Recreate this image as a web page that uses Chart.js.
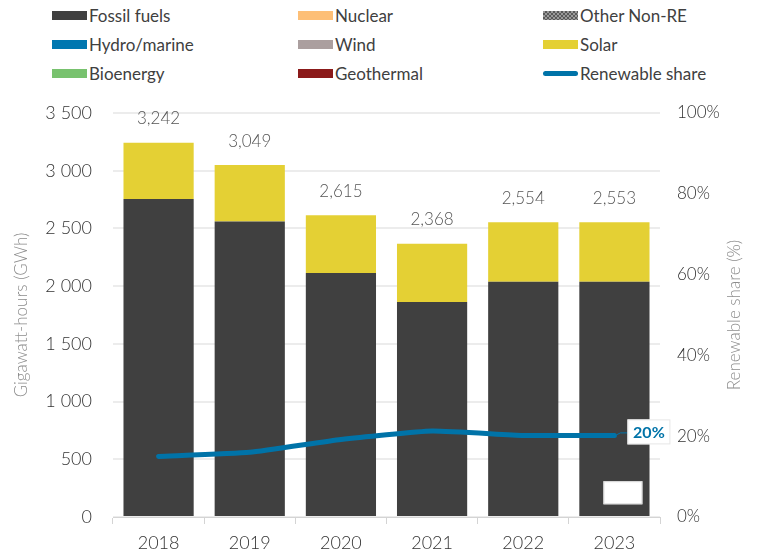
<!DOCTYPE html>
<html>
<head>
<meta charset="utf-8">
<script src="https://cdn.jsdelivr.net/npm/chart.js@4.4.1/dist/chart.umd.min.js"></script>
<style>
    html, body { margin: 0; padding: 0; background: #ffffff; }
    #wrap { position: relative; width: 758px; height: 555px; }
    #chart { position: absolute; left: 0; top: 0; }
    .lg { position: absolute; height: 20px; display: flex; align-items: center;
          font-family: Lato, sans-serif; font-weight: 400; font-size: 17px; color: #404040; white-space: nowrap; }
    .lg .sw { display: inline-block; width: 35px; height: 9px; margin-right: 2px; }
    .lg .ln { display: inline-block; width: 35px; height: 5px; border-radius: 3px; margin-right: 2px; }
</style>
</head>
<body>
<div id="wrap">
    <div id="legend"></div>
    <canvas id="chart" width="758" height="555"></canvas>
</div>
<script>
// ===== DATA =====
const years = ['2018', '2019', '2020', '2021', '2022', '2023'];
const fossilFuels = [2755, 2561, 2113, 1863, 2037, 2037];
const nuclear = [0, 0, 0, 0, 0, 0];
const otherNonRE = [0, 0, 0, 0, 0, 0];
const hydroMarine = [0, 0, 0, 0, 0, 0];
const wind = [0, 0, 0, 0, 0, 0];
const solar = [487, 488, 502, 505, 517, 516];
const bioenergy = [0, 0, 0, 0, 0, 0];
const geothermal = [0, 0, 0, 0, 0, 0];
const totals = [3242, 3049, 2615, 2368, 2554, 2553];
const renewableShare = [15.0, 16.0, 19.2, 21.3, 20.2, 20.2];

const gwhMax = 3500;
const gwhStep = 500;
const shareMax = 100;
const shareStep = 20;

// ===== STYLE =====
const FONT = 'Lato, sans-serif';
const TEXT_DARK = '#333333';
const TEXT_GREY = '#8c8c8c';
const SHARE_BLUE = '#0073a8';

// dotted pattern for "Other Non-RE"
function dotPattern() {
    const c = document.createElement('canvas');
    c.width = 4; c.height = 4;
    const g = c.getContext('2d');
    g.fillStyle = '#5a5a5a';
    g.fillRect(0, 0, 4, 4);
    g.fillStyle = '#9a9a9a';
    g.fillRect(0, 0, 2, 2);
    g.fillRect(2, 2, 2, 2);
    return c;
}

const barSeries = [
    { name: 'Fossil fuels', data: fossilFuels, color: '#404040' },
    { name: 'Nuclear', data: nuclear, color: '#fdbf77' },
    { name: 'Other Non-RE', data: otherNonRE, color: '#5a5a5a', dotted: true },
    { name: 'Hydro/marine', data: hydroMarine, color: '#0077b0' },
    { name: 'Wind', data: wind, color: '#ab9f9f' },
    { name: 'Solar', data: solar, color: '#e4d034' },
    { name: 'Bioenergy', data: bioenergy, color: '#78c26e' },
    { name: 'Geothermal', data: geothermal, color: '#8b1a1a' }
];

// ===== LEGEND (3 columns x 3 rows) =====
const legendCols = [52, 298, 543];
const legendRows = [15, 44, 73];
const legendOrder = ['Fossil fuels', 'Nuclear', 'Other Non-RE',
                     'Hydro/marine', 'Wind', 'Solar',
                     'Bioenergy', 'Geothermal', 'Renewable share'];
const legendEl = document.getElementById('legend');
legendOrder.forEach((name, i) => {
    const item = document.createElement('div');
    item.className = 'lg';
    item.style.left = legendCols[i % 3] + 'px';
    item.style.top = (legendRows[Math.floor(i / 3)] - 10) + 'px';
    const s = barSeries.find(b => b.name === name);
    const sw = document.createElement('span');
    if (s) {
        sw.className = 'sw';
        if (s.dotted) {
            sw.style.background = 'url(' + dotPattern().toDataURL() + ')';
        } else {
            sw.style.background = s.color;
        }
    } else {
        sw.className = 'ln';
        sw.style.background = SHARE_BLUE;
    }
    item.appendChild(sw);
    item.appendChild(document.createTextNode(name));
    legendEl.appendChild(item);
});

// ===== PLUGINS =====
const fmtSpace = v => String(v).replace(/\B(?=(\d{3})+(?!\d))/g, ' ');
const fmtComma = v => String(v).replace(/\B(?=(\d{3})+(?!\d))/g, ',');

const extrasPlugin = {
    id: 'extras',
    afterDatasetsDraw(chart) {
        const ctx = chart.ctx;
        const y = chart.scales.y;
        const barMeta = chart.getDatasetMeta(0);

        // totals above stacks
        ctx.save();
        ctx.font = '300 17px ' + FONT;
        ctx.fillStyle = '#555555';
        ctx.textAlign = 'center';
        ctx.textBaseline = 'middle';
        totals.forEach((t, i) => {
            const bx = barMeta.data[i].x;
            ctx.fillText(fmtComma(t), bx, y.getPixelForValue(t) - 24);
        });
        ctx.restore();

        // blank white box inside last bar
        const lastBar = barMeta.data[barMeta.data.length - 1];
        const bTop = y.getPixelForValue(310);
        const bBot = y.getPixelForValue(110);
        ctx.save();
        ctx.fillStyle = '#ffffff';
        ctx.strokeStyle = '#d9d9d9';
        ctx.lineWidth = 1;
        ctx.fillRect(lastBar.x - 11, bTop, 39, bBot - bTop);
        ctx.strokeRect(lastBar.x - 11 + 0.5, bTop + 0.5, 38, bBot - bTop - 1);
        ctx.restore();

        // end label for renewable share
        const lineMeta = chart.getDatasetMeta(chart.data.datasets.length - 1);
        const p = lineMeta.data[lineMeta.data.length - 1];
        const bx0 = p.x + 13, by0 = p.y - 16;
        ctx.save();
        ctx.strokeStyle = SHARE_BLUE;
        ctx.lineWidth = 1;
        ctx.beginPath();
        ctx.moveTo(p.x + 2, p.y - 0.5);
        ctx.lineTo(p.x + 6, p.y - 2.5);
        ctx.lineTo(bx0, p.y - 2.5);
        ctx.stroke();
        ctx.fillStyle = '#ffffff';
        ctx.strokeStyle = '#e6e6e6';
        ctx.fillRect(bx0, by0, 43, 25);
        ctx.strokeRect(bx0 + 0.5, by0 + 0.5, 42, 24);
        ctx.fillStyle = SHARE_BLUE;
        ctx.font = 'bold 16px ' + FONT;
        ctx.textAlign = 'center';
        ctx.textBaseline = 'middle';
        ctx.fillText(Math.round(renewableShare[renewableShare.length - 1]) + '%', bx0 + 21.5, by0 + 13);
        ctx.restore();

        // right axis title, reading bottom to top
        const ys = chart.scales.yShare;
        ctx.save();
        ctx.translate(735, (ys.top + ys.bottom) / 2);
        ctx.rotate(-Math.PI / 2);
        ctx.font = '300 17px ' + FONT;
        ctx.fillStyle = TEXT_GREY;
        ctx.textAlign = 'center';
        ctx.textBaseline = 'middle';
        ctx.fillText('Renewable share (%)', 0, 0);
        ctx.restore();
    }
};

// ===== CHART =====
const datasets = barSeries.map(s => ({
    type: 'bar',
    label: s.name,
    data: s.data,
    backgroundColor: s.color,
    borderWidth: 0,
    stack: 'gen',
    yAxisID: 'y',
    order: 1,
    barPercentage: 0.77,
    categoryPercentage: 1
}));
datasets.push({
    type: 'line',
    label: 'Renewable share',
    data: renewableShare,
    borderColor: SHARE_BLUE,
    borderWidth: 5,
    borderCapStyle: 'round',
    borderJoinStyle: 'round',
    pointRadius: 0,
    tension: 0.15,
    yAxisID: 'yShare',
    order: 0
});

new Chart(document.getElementById('chart'), {
    data: { labels: years, datasets: datasets },
    options: {
        responsive: false,
        animation: false,
        layout: { padding: { top: 113, left: 0, right: 0, bottom: 0 } },
        plugins: { legend: { display: false }, tooltip: { enabled: false } },
        scales: {
            x: {
                stacked: true,
                grid: { drawOnChartArea: false, drawTicks: true, tickLength: 7, color: '#d4d4d4', offset: true },
                border: { display: true, color: '#d4d4d4', width: 1 },
                ticks: { color: TEXT_DARK, font: { family: FONT, size: 18, weight: 300 }, padding: 8, maxRotation: 0 },
                afterFit: s => { s.height = 38; }
            },
            y: {
                stacked: true,
                position: 'left',
                min: 0,
                max: gwhMax,
                ticks: { stepSize: gwhStep, color: TEXT_DARK, font: { family: FONT, size: 18, weight: 300 }, padding: 21,
                         callback: v => fmtSpace(v) },
                grid: { color: '#ececec', lineWidth: 2, drawTicks: false },
                border: { display: false },
                title: { display: true, text: 'Gigawatt-hours (GWh)', color: TEXT_GREY,
                         font: { family: FONT, size: 17, weight: 300 }, padding: { top: 11, bottom: 0 } },
                afterFit: s => { s.width = 113; }
            },
            yShare: {
                position: 'right',
                min: 0,
                max: shareMax,
                ticks: { stepSize: shareStep, color: TEXT_DARK, font: { family: FONT, size: 17, weight: 300 }, padding: 17,
                         callback: v => v + '%' },
                grid: { drawOnChartArea: false, drawTicks: false },
                border: { display: false },
                afterFit: s => { s.width = 98; }
            }
        }
    },
    plugins: [extrasPlugin]
});
</script>
</body>
</html>
